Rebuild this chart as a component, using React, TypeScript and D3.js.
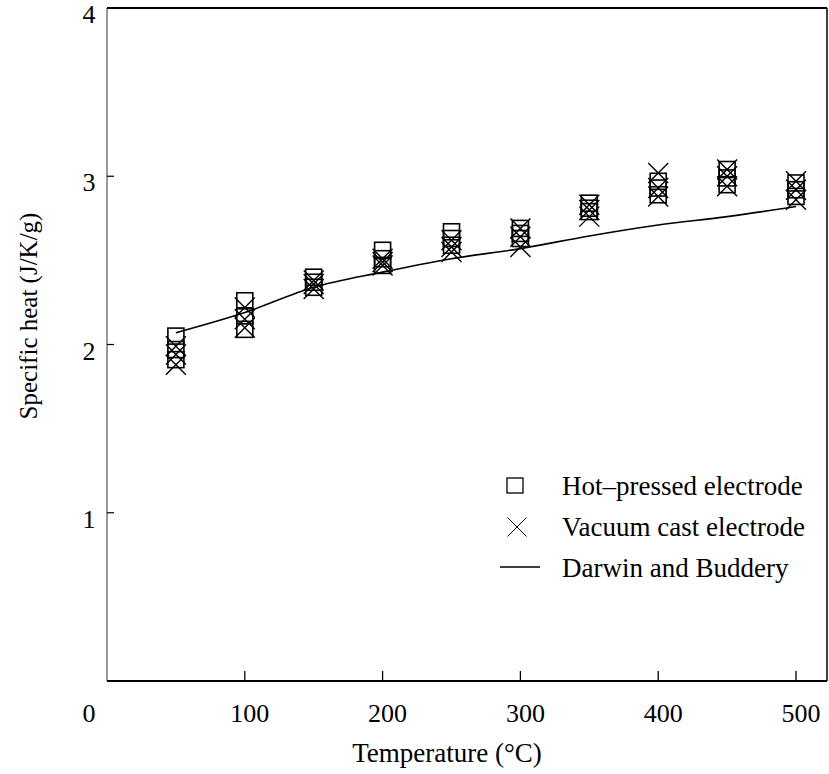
import React from "react";
import * as d3 from "d3";

const temps = [50, 100, 150, 200, 250, 300, 350, 400, 450, 500];
const hotPressed1 = [2.05, 2.26, 2.40, 2.56, 2.67, 2.69, 2.84, 2.97, 3.04, 2.96];
const hotPressed2 = [1.97, 2.17, 2.37, 2.51, 2.63, 2.66, 2.81, 2.93, 2.99, 2.92];
const hotPressed3 = [1.91, 2.09, 2.34, 2.47, 2.59, 2.63, 2.79, 2.89, 2.95, 2.88];
const vacuumCast1 = [1.99, 2.22, 2.38, 2.51, 2.62, 2.69, 2.83, 3.02, 3.04, 2.97];
const vacuumCast2 = [1.94, 2.15, 2.36, 2.49, 2.58, 2.64, 2.80, 2.93, 3.00, 2.92];
const vacuumCast3 = [1.88, 2.10, 2.33, 2.47, 2.55, 2.58, 2.76, 2.88, 2.94, 2.86];
const darwinBuddery = [2.07, 2.19, 2.34, 2.43, 2.51, 2.57, 2.645, 2.71, 2.76, 2.82];
const xTicks = [0, 100, 200, 300, 400, 500];
const yTicks = [1, 2, 3, 4];
const legendLabels = ["Hot\u2013pressed electrode", "Vacuum cast electrode", "Darwin and Buddery"];

const FONT = "'Liberation Serif', 'Times New Roman', serif";

export default function App() {
  const x = d3.scaleLinear().domain([0, 500]).range([107, 796]);
  const y = d3.scaleLinear().domain([0, 4]).range([681, 8]);
  const xMax = 522.5;

  const hotSeries = [hotPressed1, hotPressed2, hotPressed3];
  const vacSeries = [vacuumCast1, vacuumCast2, vacuumCast3];

  const line = d3
    .line<number>()
    .x((_, i) => x(temps[i]))
    .y((d) => y(d))
    .curve(d3.curveMonotoneX);

  const sq = 16;
  const cr = 10;

  const crossPath = (cx: number, cy: number, r: number) =>
    `M${cx - r},${cy - r}L${cx + r},${cy + r}M${cx - r},${cy + r}L${cx + r},${cy - r}`;

  return (
    <svg
      width={829}
      height={774}
      style={{ position: "absolute", left: 0, top: 0, background: "#fff" }}
      fontFamily={FONT}
    >
      <rect x={0} y={0} width={829} height={774} fill="#fff" />
      {/* frame */}
      <line x1={x(0)} x2={x(0)} y1={y(4)} y2={y(0)} stroke="#555" strokeWidth={1.2} />
      <line x1={x(0)} x2={x(xMax)} y1={y(4)} y2={y(4)} stroke="#000" strokeWidth={2} />
      <line x1={x(xMax)} x2={x(xMax)} y1={y(4)} y2={y(0)} stroke="#000" strokeWidth={1.5} />
      <line x1={x(0)} x2={x(xMax)} y1={y(0)} y2={y(0)} stroke="#000" strokeWidth={2} />

      {/* y ticks */}
      {yTicks.map((t) => (
        <g key={"yt" + t}>
          {t < 4 && <line x1={x(0)} x2={x(0) + 7} y1={y(t)} y2={y(t)} stroke="#000" strokeWidth={1.2} />}
          <text x={89} y={y(t) + 15} textAnchor="middle" fontSize={26}>
            {t}
          </text>
        </g>
      ))}
      {/* x ticks */}
      {xTicks.map((t) => (
        <g key={"xt" + t}>
          {t > 0 && <line x1={x(t)} x2={x(t)} y1={y(0)} y2={y(0) - 10} stroke="#000" strokeWidth={1.3} />}
          <text x={t === 0 ? 89 : x(t) + 5} y={722} textAnchor="middle" fontSize={26}>
            {t}
          </text>
        </g>
      ))}

      {/* axis titles */}
      <text x={447} y={762} textAnchor="middle" fontSize={27}>
        Temperature (°C)
      </text>
      <text
        transform={`translate(37,316) rotate(-90)`}
        textAnchor="middle"
        fontSize={25}
      >
        Specific heat (J/K/g)
      </text>

      {/* Darwin and Buddery line */}
      <path d={line(darwinBuddery) || ""} fill="none" stroke="#000" strokeWidth={1.6} />

      {/* hot-pressed squares */}
      {hotSeries.map((s, si) =>
        s.map((v, i) => (
          <rect
            key={`h${si}-${i}`}
            x={x(temps[i]) - sq / 2}
            y={y(v) - sq / 2}
            width={sq}
            height={sq}
            fill="none"
            stroke="#000"
            strokeWidth={1.6}
          />
        ))
      )}
      {/* vacuum cast crosses */}
      {vacSeries.map((s, si) =>
        s.map((v, i) => (
          <path
            key={`v${si}-${i}`}
            d={crossPath(x(temps[i]), y(v), cr)}
            stroke="#000"
            strokeWidth={1.4}
            fill="none"
          />
        ))
      )}

      {/* legend */}
      <rect x={515 - 8} y={486 - 8} width={16} height={15} fill="none" stroke="#000" strokeWidth={1.3} />
      <path d={crossPath(517, 527, 9.5)} stroke="#000" strokeWidth={1} fill="none" />
      <line x1={500} x2={540} y1={567} y2={567} stroke="#000" strokeWidth={1.3} />
      {legendLabels.map((l, i) => (
        <text key={l} x={562} y={495 + i * 41} fontSize={27}>
          {l}
        </text>
      ))}
    </svg>
  );
}
